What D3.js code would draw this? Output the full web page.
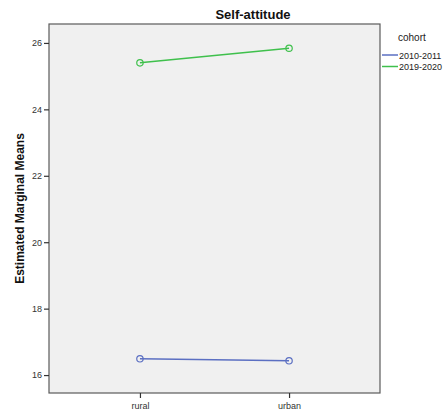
<!DOCTYPE html>
<html>
<head>
<meta charset="utf-8">
<script src="https://cdn.jsdelivr.net/npm/d3@7"></script>
<style>
  html, body { margin: 0; padding: 0; background: #fff; }
  svg { display: block; font-family: "Liberation Sans", Arial, sans-serif; }
</style>
</head>
<body>
<svg id="chart" width="447" height="415"></svg>
<script>
// Estimated marginal means of self-attitude by residence and cohort
const categories = ["rural", "urban"];
const cohorts = ["2010-2011", "2019-2020"];
const means2010 = [16.49, 16.43];
const means2019 = [25.40, 25.84];
const yTicks = [16, 18, 20, 22, 24, 26];
const colors = ["#5b6fc2", "#3fc04c"];

const series = [
  { name: cohorts[0], values: means2010, color: colors[0] },
  { name: cohorts[1], values: means2019, color: colors[1] }
];

const svg = d3.select("#chart");
const plot = { left: 49, top: 24, right: 380, bottom: 393 };

const x = d3.scalePoint()
  .domain(categories)
  .range([plot.left, plot.right])
  .padding(0.61);

const y = d3.scaleLinear()
  .domain([15.46, 26.57])
  .range([plot.bottom, plot.top]);

// plot frame
svg.append("rect")
  .attr("x", plot.left).attr("y", plot.top)
  .attr("width", plot.right - plot.left)
  .attr("height", plot.bottom - plot.top)
  .attr("fill", "#f0f0f0")
  .attr("stroke", "#5a5a5a")
  .attr("stroke-width", 1.2);

// axes
const yAxis = svg.append("g")
  .attr("transform", `translate(${plot.left},0)`)
  .call(d3.axisLeft(y).tickValues(yTicks).tickSize(5).tickPadding(2).tickFormat(d3.format("d")));
yAxis.select(".domain").remove();
yAxis.selectAll("line").attr("stroke", "#333").attr("stroke-width", 1.2);
yAxis.selectAll("text").attr("font-size", 9).attr("fill", "#333")
  .attr("font-family", "'Liberation Sans', Arial, sans-serif");

const xAxis = svg.append("g")
  .attr("transform", `translate(0,${plot.bottom})`)
  .call(d3.axisBottom(x).tickSize(5).tickPadding(5));
xAxis.select(".domain").remove();
xAxis.selectAll("line").attr("stroke", "#333").attr("stroke-width", 1.2);
xAxis.selectAll("text").attr("font-size", 9).attr("fill", "#333")
  .attr("font-family", "'Liberation Sans', Arial, sans-serif");

// lines and open circle markers
const line = d3.line()
  .x((d, i) => x(categories[i]))
  .y(d => y(d));

series.forEach(s => {
  svg.append("path")
    .datum(s.values)
    .attr("d", line)
    .attr("fill", "none")
    .attr("stroke", s.color)
    .attr("stroke-width", 1.5);
  svg.selectAll(null)
    .data(s.values)
    .enter().append("circle")
    .attr("cx", (d, i) => x(categories[i]))
    .attr("cy", d => y(d))
    .attr("r", 3.2)
    .attr("fill", "none")
    .attr("stroke", s.color)
    .attr("stroke-width", 1.2);
});

// title
svg.append("text")
  .attr("x", 253).attr("y", 19)
  .attr("text-anchor", "middle")
  .attr("font-size", 13).attr("font-weight", "bold")
  .attr("fill", "#111")
  .text("Self-attitude");

// y-axis title
svg.append("text")
  .attr("transform", `translate(24,${(plot.top + plot.bottom) / 2}) rotate(-90)`)
  .attr("text-anchor", "middle")
  .attr("font-size", 12).attr("font-weight", "bold")
  .attr("fill", "#111")
  .text("Estimated Marginal Means");

// legend
const legend = svg.append("g");
legend.append("text")
  .attr("x", 398).attr("y", 41)
  .attr("font-size", 10).attr("fill", "#222")
  .text("cohort");
series.forEach((s, i) => {
  const ly = 55 + i * 11.5;
  legend.append("line")
    .attr("x1", 382).attr("x2", 398)
    .attr("y1", ly).attr("y2", ly)
    .attr("stroke", s.color).attr("stroke-width", 1.5);
  legend.append("text")
    .attr("x", 399).attr("y", ly + 3.5)
    .attr("font-size", 9).attr("fill", "#222")
    .text(s.name);
});
</script>
</body>
</html>
